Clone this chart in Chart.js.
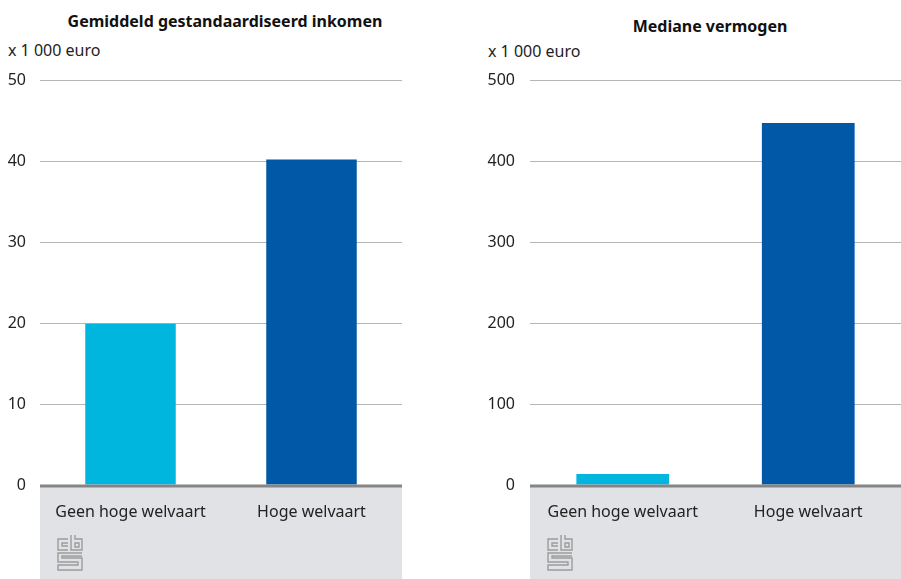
<!DOCTYPE html>
<html>
<head>
<meta charset="utf-8">
<script src="https://cdn.jsdelivr.net/npm/chart.js@4.4.1/dist/chart.umd.min.js"></script>
<style>
  html, body { margin: 0; padding: 0; background: #ffffff; }
  body { width: 901px; height: 579px; position: relative; overflow: hidden; font-family: "Noto Sans", sans-serif; }
  .panel { position: absolute; top: 0; height: 579px; }
  .title { position: absolute; font-weight: bold; font-size: 16px; color: #111; white-space: nowrap; transform: translateX(-50%); }
  .unit { position: absolute; font-size: 16px; color: #222; white-space: nowrap; }
</style>
</head>
<body>
<div class="title" style="left:225px; top:10px;">Gemiddeld gestandaardiseerd inkomen</div>
<div class="title" style="left:710px; top:15px;">Mediane vermogen</div>
<div class="unit" style="left:8px; top:39px;">x 1 000 euro</div>
<div class="unit" style="left:488px; top:40px;">x 1 000 euro</div>
<div class="panel" style="left:0; width:420px;"><canvas id="c1" width="420" height="579"></canvas></div>
<div class="panel" style="left:480px; width:421px;"><canvas id="c2" width="421" height="579"></canvas></div>
<script>
const categories = ["Geen hoge welvaart", "Hoge welvaart"];
const inkomenValues = [19.9, 40.2];
const vermogenValues = [13.6, 447];
const inkomenTicks = [0, 10, 20, 30, 40, 50];
const vermogenTicks = [0, 100, 200, 300, 400, 500];
const barColors = ["#00b6df", "#0058a7"];

const FONT = "Noto Sans";

function drawLogo(ctx, x, y) {
  ctx.save();
  ctx.strokeStyle = "#9c9c9c";
  ctx.lineWidth = 1.4;
  ctx.beginPath();
  // "c"
  ctx.moveTo(x + 11, y + 4); ctx.lineTo(x + 1, y + 4); ctx.lineTo(x + 1, y + 15); ctx.lineTo(x + 11, y + 15);
  ctx.moveTo(x + 11, y + 8); ctx.lineTo(x + 5, y + 8); ctx.lineTo(x + 5, y + 11); ctx.lineTo(x + 11, y + 11);
  // "b"
  ctx.moveTo(x + 14, y + 0); ctx.lineTo(x + 14, y + 15); ctx.lineTo(x + 25, y + 15); ctx.lineTo(x + 25, y + 4); ctx.lineTo(x + 18, y + 4); ctx.lineTo(x + 18, y + 0);
  ctx.rect(x + 18, y + 8, 4, 4);
  // "s"
  ctx.moveTo(x + 25, y + 18); ctx.lineTo(x + 1, y + 18); ctx.lineTo(x + 1, y + 27); ctx.lineTo(x + 21, y + 27); ctx.lineTo(x + 21, y + 30); ctx.lineTo(x + 1, y + 30); ctx.lineTo(x + 1, y + 35); ctx.lineTo(x + 25, y + 35); ctx.lineTo(x + 25, y + 23); ctx.lineTo(x + 5, y + 23); ctx.lineTo(x + 5, y + 21); ctx.lineTo(x + 25, y + 21);
  ctx.stroke();
  ctx.restore();
}

const bandPlugin = {
  id: "band",
  beforeDraw(chart) {
    const { ctx, chartArea } = chart;
    const y0 = chart.scales.y.getPixelForValue(0);
    ctx.save();
    ctx.fillStyle = "#e1e2e5";
    ctx.fillRect(chartArea.left, y0, chartArea.right - chartArea.left, chart.height - y0);
    ctx.restore();
    drawLogo(ctx, chartArea.left + 17, y0 + 50);
  },
  afterDatasetsDraw(chart) {
    const { ctx, chartArea } = chart;
    const y0 = chart.scales.y.getPixelForValue(0);
    ctx.save();
    ctx.strokeStyle = "#858585";
    ctx.lineWidth = 3;
    ctx.beginPath();
    ctx.moveTo(chartArea.left, y0 + 1);
    ctx.lineTo(chartArea.right, y0 + 1);
    ctx.stroke();
    ctx.restore();
  }
};

function makeChart(id, values, ticks, axisWidth, rightPad) {
  return new Chart(document.getElementById(id), {
    type: "bar",
    data: {
      labels: categories,
      datasets: [{ data: values, backgroundColor: barColors, borderWidth: 0, barPercentage: 0.5, categoryPercentage: 1 }]
    },
    options: {
      responsive: false,
      animation: false,
      devicePixelRatio: 1,
      layout: { padding: { top: 80, right: rightPad, left: 0, bottom: 0 } },
      plugins: { legend: { display: false }, tooltip: { enabled: false } },
      scales: {
        x: {
          grid: { display: false },
          border: { display: false },
          ticks: { color: "#222", font: { family: FONT, size: 16 }, padding: 10, maxRotation: 0 },
          afterFit(scale) { scale.height = 94; }
        },
        y: {
          min: ticks[0],
          max: ticks[ticks.length - 1],
          afterBuildTicks(scale) { scale.ticks = ticks.map(v => ({ value: v })); },
          grid: {
            drawTicks: false,
            color: ctx => (ctx.tick && ctx.tick.value === 0) ? "rgba(0,0,0,0)" : "#b5b5b5",
            lineWidth: 1
          },
          border: { display: false },
          ticks: { color: "#222", font: { family: FONT, size: 16 }, padding: axisWidth === 40 ? 14 : 15 },
          afterFit(scale) { scale.width = axisWidth; }
        }
      }
    },
    plugins: [bandPlugin]
  });
}

makeChart("c1", inkomenValues, inkomenTicks, 40, 18);
makeChart("c2", vermogenValues, vermogenTicks, 50, 0);
</script>
</body>
</html>
